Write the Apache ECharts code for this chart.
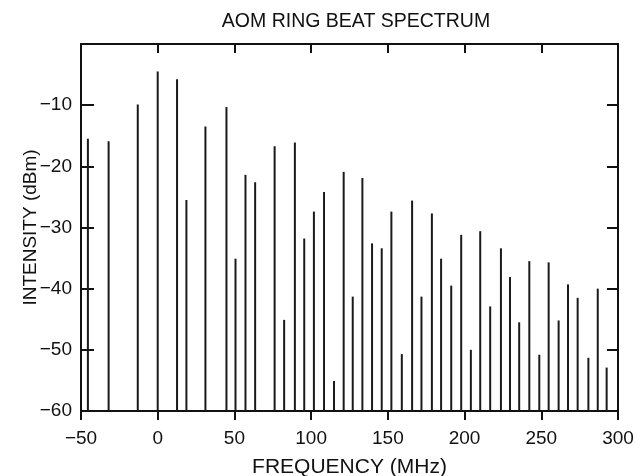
<!DOCTYPE html>
<html>
<head>
<meta charset="utf-8">
<script src="https://cdn.jsdelivr.net/npm/echarts@6/dist/echarts.min.js"></script>
<style>
html,body{margin:0;padding:0;background:#fff;}
#chart{width:635px;height:476px;}
</style>
</head>
<body>
<div id="chart"></div>
<script>
// Beat-note frequencies (MHz)
const frequencies = [-45.5, -32, -13, 0, 12.6, 18.7, 31.1, 44.8, 50.7, 57.2, 63.5, 76.2, 82.4, 89.4, 95.5, 101.8, 108.4, 114.9, 121.2, 127.1, 133.4, 139.7, 146.0, 152.3, 159.1, 165.8, 171.9, 178.7, 184.7, 191.3, 197.8, 204.1, 210.2, 216.7, 223.7, 229.6, 235.6, 242.2, 248.7, 254.8, 261.3, 267.4, 273.7, 280.7, 286.8, 292.6];
// Peak intensities (dBm)
const intensities = [-15.5, -15.9, -9.9, -4.5, -5.75, -25.5, -13.5, -10.3, -35.1, -21.4, -22.6, -16.7, -45.1, -16.1, -31.8, -27.4, -24.2, -55.1, -20.9, -41.3, -21.9, -32.6, -33.4, -27.4, -50.7, -25.6, -41.3, -27.7, -35.1, -39.5, -31.2, -50.0, -30.6, -42.9, -33.4, -38.1, -45.5, -35.5, -50.8, -35.7, -45.2, -39.3, -41.5, -51.3, -40.0, -52.9];
const xTicks = [-50, 0, 50, 100, 150, 200, 250, 300];
const yTicks = [-60, -50, -40, -30, -20, -10, 0];

const title = 'AOM RING BEAT SPECTRUM';
const xName = 'FREQUENCY (MHz)';
const yName = 'INTENSITY (dBm)';

const xMin = xTicks[0], xMax = xTicks[xTicks.length - 1];
const yMin = yTicks[0], yMax = yTicks[yTicks.length - 1];

const data = frequencies.map((f, i) => [f, intensities[i]]);
const FONT = '"Liberation Sans", Arial, sans-serif';
const INK = '#111';
const fmt = v => (v < 0 ? '\u2212' + Math.abs(v) : String(v));

const chart = echarts.init(document.getElementById('chart'));
chart.setOption({
  animation: false,
  backgroundColor: '#fff',
  title: {
    text: title, left: 351, top: 7, textAlign: 'center',
    textStyle: { fontFamily: FONT, fontSize: 19.5, fontWeight: 'normal', color: INK }
  },
  grid: { left: 81, right: 17, top: 44, bottom: 65, containLabel: false, outerBoundsMode: 'none' },
  xAxis: [{
    type: 'value', position: 'bottom', min: xMin, max: xMax, interval: 50,
    name: xName, nameLocation: 'middle', nameGap: 46, nameMoveOverlap: false,
    nameTextStyle: { fontFamily: FONT, fontSize: 21, color: INK },
    axisLine: { show: true, onZero: false, lineStyle: { color: '#111', width: 2 } },
    axisTick: { show: true, inside: false, length: 9, lineStyle: { color: '#111', width: 2 } },
    axisLabel: { fontFamily: FONT, fontSize: 19, color: INK, margin: 18, formatter: fmt },
    splitLine: { show: false }
  }, {
    type: 'value', position: 'top', min: xMin, max: xMax, interval: 50,
    axisLine: { show: true, onZero: false, lineStyle: { color: '#111', width: 2 } },
    axisTick: { show: true, inside: true, length: 9, lineStyle: { color: '#111', width: 2 } },
    axisLabel: { show: false },
    splitLine: { show: false }
  }],
  yAxis: [{
    type: 'value', position: 'left', min: yMin, max: yMax, interval: 10,
    name: yName, nameLocation: 'middle', nameGap: 41, nameRotate: 90, nameMoveOverlap: false,
    nameTextStyle: { fontFamily: FONT, fontSize: 19, color: INK },
    axisLine: { show: true, onZero: false, lineStyle: { color: '#111', width: 2 } },
    axisTick: { show: true, inside: true, length: 13, lineStyle: { color: '#111', width: 2 } },
    axisLabel: { fontFamily: FONT, fontSize: 19, color: INK, margin: 9,
      formatter: v => (v === yMax ? '' : fmt(v)) },
    splitLine: { show: false }
  }, {
    type: 'value', position: 'right', min: yMin, max: yMax, interval: 10,
    axisLine: { show: true, onZero: false, lineStyle: { color: '#111', width: 2 } },
    axisTick: { show: true, inside: true, length: 11, lineStyle: { color: '#111', width: 2 } },
    axisLabel: { show: false },
    splitLine: { show: false }
  }],
  series: [{
    type: 'custom',
    xAxisIndex: 0, yAxisIndex: 0,
    data: data,
    encode: { x: 0, y: 1 },
    renderItem: function (params, api) {
      const top = api.coord([api.value(0), api.value(1)]);
      const base = api.coord([api.value(0), yMin]);
      return {
        type: 'line',
        shape: { x1: top[0], y1: top[1], x2: base[0], y2: base[1] },
        style: { stroke: '#1a1a1a', lineWidth: 2 }
      };
    }
  }]
});
</script>
</body>
</html>
